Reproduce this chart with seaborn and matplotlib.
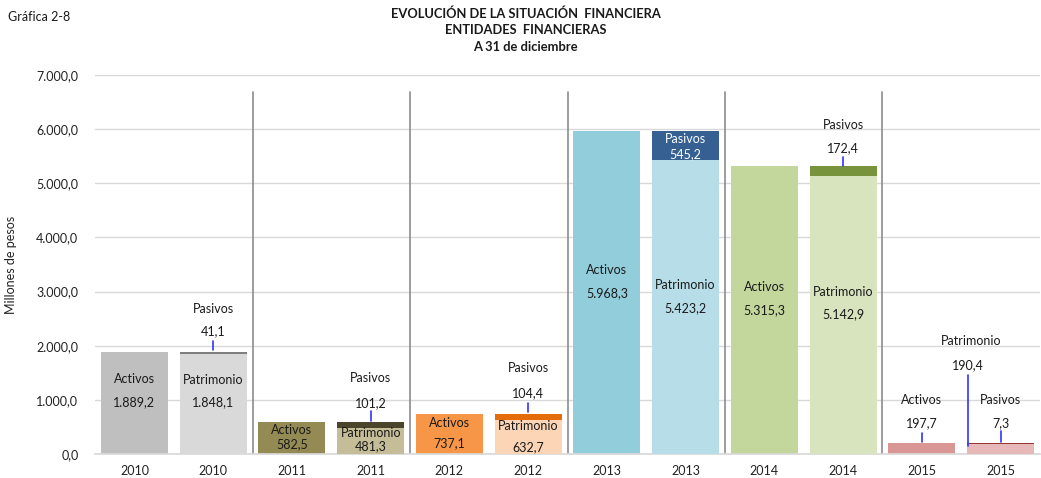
import matplotlib
matplotlib.use("Agg")
import matplotlib.pyplot as plt
import seaborn as sns
import pandas as pd
import numpy as np

years = ["2010", "2011", "2012", "2013", "2014", "2015"]
activos = [1889.2, 582.5, 737.1, 5968.3, 5315.3, 197.7]
patrimonio = [1848.1, 481.3, 632.7, 5423.2, 5142.9, 190.4]
pasivos = [41.1, 101.2, 104.4, 545.2, 172.4, 7.3]

col_act = ["#BFBFBF", "#948A54", "#F79646", "#92CDDC", "#C3D69B", "#D99694"]
col_pat = ["#D9D9D9", "#C4BD97", "#FBD5B5", "#B7DEE8", "#D7E4BD", "#E6B9B8"]
col_pas = ["#7F7F7F", "#4A452A", "#E46C0A", "#366092", "#77933C", "#953735"]


def fmt(v):
    s = f"{v:,.1f}"
    return s.replace(",", "X").replace(".", ",").replace("X", ".")


sns.set_theme(style="white")
plt.rcParams["font.family"] = ["Lato", "DejaVu Sans"]

slots = []
for y in years:
    slots += [y + " A", y + " P"]

# layer 1: Activos bars and total (Patrimonio + Pasivos) bars in Pasivos colour
top_vals, top_cols = [], []
for i in range(len(years)):
    top_vals += [activos[i], patrimonio[i] + pasivos[i]]
    top_cols += [col_act[i], col_pas[i]]
df1 = pd.DataFrame({"slot": slots, "value": top_vals})
pal1 = dict(zip(slots, top_cols))

df2 = pd.DataFrame({"slot": [y + " P" for y in years], "value": patrimonio})
pal2 = dict(zip(df2["slot"], col_pat))

fig = plt.figure(figsize=(10.41, 4.78), dpi=100)
ax = fig.add_axes([0.0913, 0.0502, 0.9077, 0.7929])

sns.barplot(data=df1, x="slot", y="value", hue="slot", palette=pal1, order=slots,
            hue_order=slots, width=0.85, saturation=1, legend=False, ax=ax, zorder=2,
            edgecolor="none", linewidth=0)
sns.barplot(data=df2, x="slot", y="value", hue="slot", palette=pal2, order=slots,
            hue_order=list(df2["slot"]), width=0.85, saturation=1, legend=False, ax=ax, zorder=3,
            edgecolor="none", linewidth=0)

ax.set_ylim(0, 7000)
ax.set_xlim(-0.5, len(slots) - 0.5)
ax.set_yticks(np.arange(0, 7001, 1000))
ax.set_yticklabels([fmt(v) for v in np.arange(0, 7001, 1000)], fontsize=9, color="#222222")
ax.set_xticks(range(len(slots)))
ax.set_xticklabels([y for y in years for _ in range(2)], fontsize=9, color="#222222")
ax.tick_params(axis="both", length=0, pad=8)
ax.tick_params(axis="y", pad=12)
ax.set_xlabel("")
ax.set_ylabel("Millones de pesos", fontsize=9, labelpad=14, color="#222222")
ax.yaxis.grid(True, color="#D9D9D9", linewidth=1, zorder=0)
ax.set_axisbelow(True)
for s in ["top", "right", "left"]:
    ax.spines[s].set_visible(False)
ax.spines["bottom"].set_color("#D9D9D9")

for k in range(1, len(years)):
    ax.axvline(2 * k - 0.5, ymin=0, ymax=0.955, color="#8C8C8C", linewidth=1.2, zorder=1)

fs = 9
tc = "#1A1A1A"
lc = "#3333FF"


def txt(x, y, s, color=tc):
    ax.text(x, y, s, ha="center", va="center", fontsize=fs, color=color, zorder=5)


def leader(x, y0, y1):
    ax.plot([x, x], [y0, y1], color=lc, linewidth=1.2, zorder=5)


# label placements (data units)
act_lab = [(1385, 960), (443, 185), (573, 203), (3398, 2974), (3084, 2660), (997, 573)]
pat_lab = [(1367, 960), (388, 148), (517, 129), (3121, 2697), (2992, 2586)]
pas_lab = [(2678, 2272), (1404, 942), (1588, 1127), (5818, 5541), (6077, 5652), (997, 573)]
pas_lead = [(2087, 1921), (794, 610), (942, 776), None, (5486, 5319), (425, 222)]

for i in range(len(years)):
    xa, xp = 2 * i, 2 * i + 1
    txt(xa, act_lab[i][0], "Activos")
    txt(xa, act_lab[i][1], fmt(activos[i]))
    if i < 5:
        txt(xp, pat_lab[i][0], "Patrimonio")
        txt(xp, pat_lab[i][1], fmt(patrimonio[i]))
    pc = "white" if i == 3 else tc
    txt(xp, pas_lab[i][0], "Pasivos", pc)
    txt(xp, pas_lab[i][1], fmt(pasivos[i]), pc)
    if pas_lead[i] is not None:
        leader(xp, pas_lead[i][0], pas_lead[i][1])

# 2015 activos leader & patrimonio callout
leader(10, 388, 222)
txt(11 - 0.38, 2087, "Patrimonio")
txt(11 - 0.42, 1644, fmt(patrimonio[5]))
leader(11 - 0.42, 1459, 148)

fig.text(0.008, 0.965, "Gráfica 2-8", fontsize=9, ha="left", va="center", color=tc)
fig.text(0.505, 0.972, "EVOLUCIÓN DE LA SITUACIÓN  FINANCIERA", fontsize=9.3, fontweight="bold",
         ha="center", va="center", color=tc)
fig.text(0.505, 0.937, "ENTIDADES  FINANCIERAS", fontsize=9.3, fontweight="bold",
         ha="center", va="center", color=tc)
fig.text(0.505, 0.901, "A 31 de diciembre", fontsize=9.3, fontweight="bold",
         ha="center", va="center", color=tc)

fig.savefig("out.png", dpi=100, facecolor="white")
